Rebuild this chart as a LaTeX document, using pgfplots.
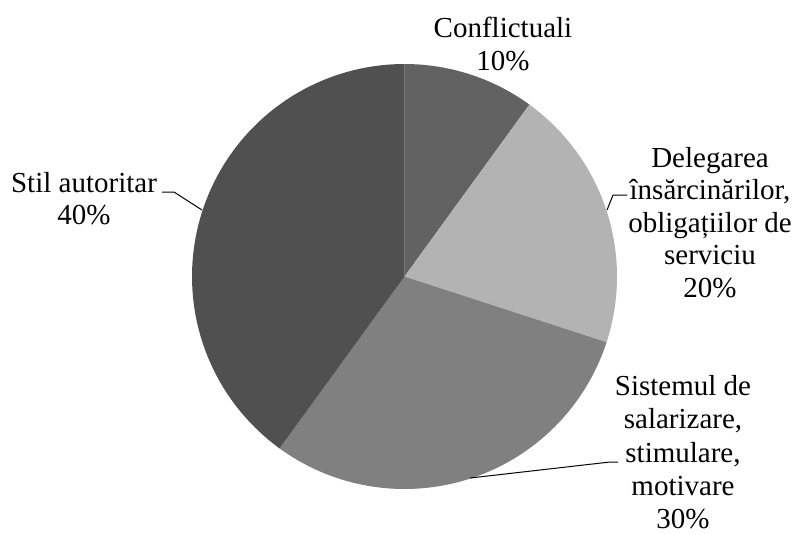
\documentclass[border=0pt]{standalone}
\usepackage{pgfplots}
\pgfplotsset{compat=1.18}
\usepackage{fontspec}
\setmainfont{Liberation Serif}
\definecolor{cConf}{RGB}{98,98,98}
\definecolor{cDeleg}{RGB}{179,179,179}
\definecolor{cSist}{RGB}{128,128,128}
\definecolor{cStil}{RGB}{80,80,80}
\newcommand{\lbl}{\fontsize{21.75}{24.75}\selectfont}
\begin{document}
\begin{tikzpicture}
\begin{axis}[
  scale only axis, width=596.25pt, height=399.75pt,
  xmin=0, xmax=795, ymin=0, ymax=533, y dir=reverse,
  hide axis, clip=false,
]
\path (axis cs:0,0) rectangle (axis cs:795,533);
% shares: Conflictuali 10%, Delegarea 20%, Sistemul 30%, Stil autoritar 40%
% slices start at 12 o'clock, clockwise; angle span = 3.6 * percent
\addplot[fill=cConf, draw=none, variable=\t, domain=54:90, samples=40]
  ({404.5+212.5*cos(\t)}, {276.5-212.5*sin(\t)}) -- (axis cs:404.5,276.5) -- cycle;
\addplot[fill=cDeleg, draw=none, variable=\t, domain=-18:54, samples=60]
  ({404.5+212.5*cos(\t)}, {276.5-212.5*sin(\t)}) -- (axis cs:404.5,276.5) -- cycle;
\addplot[fill=cSist, draw=none, variable=\t, domain=-126:-18, samples=80]
  ({404.5+212.5*cos(\t)}, {276.5-212.5*sin(\t)}) -- (axis cs:404.5,276.5) -- cycle;
\addplot[fill=cStil, draw=none, variable=\t, domain=-270:-126, samples=100]
  ({404.5+212.5*cos(\t)}, {276.5-212.5*sin(\t)}) -- (axis cs:404.5,276.5) -- cycle;
% leader lines
\addplot[black, line width=0.75pt] coordinates {(162,192) (174,192) (202,210)};
\addplot[black, line width=0.75pt] coordinates {(627,195) (613,195) (607,210)};
\addplot[black, line width=0.75pt] coordinates {(618,462) (610,462) (470,478)};
% labels
\node[anchor=base, inner sep=0, font=\lbl] at (axis cs:503,37) {Conflictuali};
\node[anchor=base, inner sep=0, font=\lbl] at (axis cs:503,70) {10\%};
\node[anchor=base, inner sep=0, font=\lbl] at (axis cs:710,167) {Delegarea};
\node[anchor=base, inner sep=0, font=\lbl] at (axis cs:710,199.5) {însărcinărilor,};
\node[anchor=base, inner sep=0, font=\lbl] at (axis cs:710,232) {obligațiilor de};
\node[anchor=base, inner sep=0, font=\lbl] at (axis cs:710,264.5) {serviciu};
\node[anchor=base, inner sep=0, font=\lbl] at (axis cs:710,297) {20\%};
\node[anchor=base, inner sep=0, font=\lbl] at (axis cs:683,395) {Sistemul de};
\node[anchor=base, inner sep=0, font=\lbl] at (axis cs:683,428.5) {salarizare,};
\node[anchor=base, inner sep=0, font=\lbl] at (axis cs:683,462) {stimulare,};
\node[anchor=base, inner sep=0, font=\lbl] at (axis cs:683,495.5) {motivare};
\node[anchor=base, inner sep=0, font=\lbl] at (axis cs:683,528) {30\%};
\node[anchor=base, inner sep=0, font=\lbl] at (axis cs:84,192) {Stil autoritar};
\node[anchor=base, inner sep=0, font=\lbl] at (axis cs:84,224) {40\%};
\end{axis}
\end{tikzpicture}
\end{document}
